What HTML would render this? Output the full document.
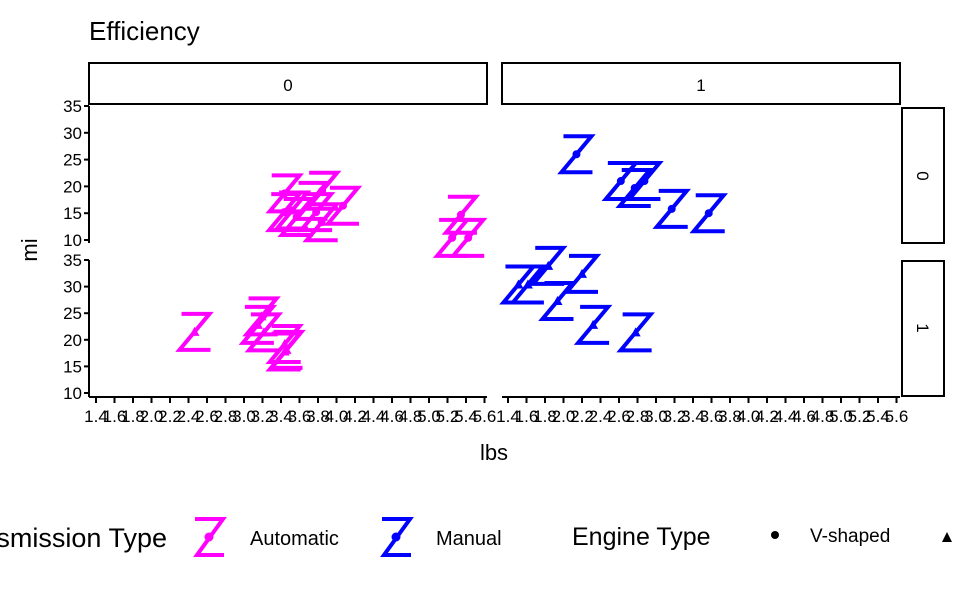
<!DOCTYPE html>
<html><head><meta charset="utf-8"><style>
html,body{margin:0;padding:0;background:#fff;}
svg text{font-family:"Liberation Sans",sans-serif;}
</style></head><body>
<svg id="s" width="960" height="593" xmlns="http://www.w3.org/2000/svg">
<rect width="960" height="593" fill="#fff"/>
<text x="89" y="40" font-size="26">Efficiency</text>
<rect x="89" y="63" width="398" height="41" fill="#fff" stroke="#000" stroke-width="2"/>
<rect x="502" y="63" width="398" height="41" fill="#fff" stroke="#000" stroke-width="2"/>
<text x="288" y="91" font-size="17" text-anchor="middle">0</text>
<text x="701" y="91" font-size="17" text-anchor="middle">1</text>
<rect x="902" y="108" width="42" height="135" fill="#fff" stroke="#000" stroke-width="2"/>
<rect x="902" y="261" width="42" height="135" fill="#fff" stroke="#000" stroke-width="2"/>
<text transform="translate(917,176) rotate(90)" font-size="17" text-anchor="middle">0</text>
<text transform="translate(917,328) rotate(90)" font-size="17" text-anchor="middle">1</text>
<g id="axes" stroke="#000" stroke-width="2" fill="none"></g>
<g id="lab" font-size="17"></g>
<g id="pts"></g>
<text x="494" y="460" font-size="22" text-anchor="middle">lbs</text>
<text transform="translate(37,250) rotate(-90)" font-size="22" text-anchor="middle">mi</text>
<text x="167" y="547" font-size="27" text-anchor="end">Transmission Type</text>
<path d="M195,519 L223,519 L197,555 L224,555" stroke="#f0f" stroke-width="4" fill="none"/>
<circle cx="209" cy="537" r="4.5" fill="#f0f"/>
<text x="250" y="545" font-size="20">Automatic</text>
<path d="M382,519 L410,519 L384,555 L411,555" stroke="#00f" stroke-width="4" fill="none"/>
<circle cx="396" cy="537" r="4.5" fill="#00f"/>
<text x="436" y="545" font-size="20">Manual</text>
<text x="572" y="545" font-size="25">Engine Type</text>
<circle cx="775" cy="535" r="4" fill="#000"/>
<text x="810" y="542" font-size="19">V-shaped</text>
<path d="M942,542 L952,542 L947,532 Z" fill="#000"/>
</svg>
<script>
var NS="http://www.w3.org/2000/svg";
function el(p,t,a,txt){var e=document.createElementNS(NS,t);for(var k in a)e.setAttribute(k,a[k]);if(txt!==undefined)e.textContent=txt;document.getElementById(p).appendChild(e);return e;}
el("axes","line",{x1:89,y1:106,x2:89,y2:243});
el("axes","line",{x1:89,y1:260,x2:89,y2:397});
el("axes","line",{x1:89,y1:397,x2:487,y2:397});
el("axes","line",{x1:502,y1:397,x2:900,y2:397});
var ylab=[35,30,25,20,15,10];
[[106,240],[260,393]].forEach(function(r){ylab.forEach(function(v,i){var y=r[0]+(r[1]-r[0])*i/5;
el("axes","line",{x1:84,y1:y,x2:89,y2:y});el("lab","text",{x:82,y:y+6,"text-anchor":"end"},v);});});
[96,508].forEach(function(x0){for(var i=0;i<22;i++){var x=x0+i*18.5;var v=(1.4+i*0.2).toFixed(1);
el("axes","line",{x1:x,y1:397,x2:x,y2:403});el("lab","text",{x:x,y:422,"text-anchor":"middle"},v);}});
var d=[[2.620,21.0,0,1],[2.875,21.0,0,1],[2.320,22.8,1,1],[3.215,21.4,1,0],[3.440,18.7,0,0],[3.460,18.1,1,0],[3.570,14.3,0,0],[3.190,24.4,1,0],[3.150,22.8,1,0],[3.440,19.2,1,0],[3.440,17.8,1,0],[4.070,16.4,0,0],[3.730,17.3,0,0],[3.780,15.2,0,0],[5.250,10.4,0,0],[5.424,10.4,0,0],[5.345,14.7,0,0],[2.200,32.4,1,1],[1.615,30.4,1,1],[1.835,33.9,1,1],[2.465,21.5,1,0],[3.520,15.5,0,0],[3.435,15.2,0,0],[3.840,13.3,0,0],[3.845,19.2,0,0],[1.935,27.3,1,1],[2.140,26.0,0,1],[1.513,30.4,1,1],[3.170,15.8,0,1],[2.770,19.7,0,1],[3.570,15.0,0,1],[2.780,21.4,1,1]];
d.forEach(function(r){var x0=r[3]?508:96;var x=x0+(r[0]-1.4)*92.5;
var y=r[2]?260+(35-r[1])*5.32:106+(35-r[1])*5.36;var c=r[3]?"#00f":"#f0f";
el("pts","path",{d:"M"+(x-13)+","+(y-18)+" L"+(x+15)+","+(y-18)+" L"+(x-15)+","+(y+18)+" L"+(x+16)+","+(y+18),stroke:c,"stroke-width":4,fill:"none"});
if(r[2])el("pts","path",{d:"M"+(x-5)+","+(y+4)+" L"+(x+5)+","+(y+4)+" L"+x+","+(y-5)+" Z",fill:c});
else el("pts","circle",{cx:x,cy:y,r:4,fill:c});});
</script>
</body></html>
